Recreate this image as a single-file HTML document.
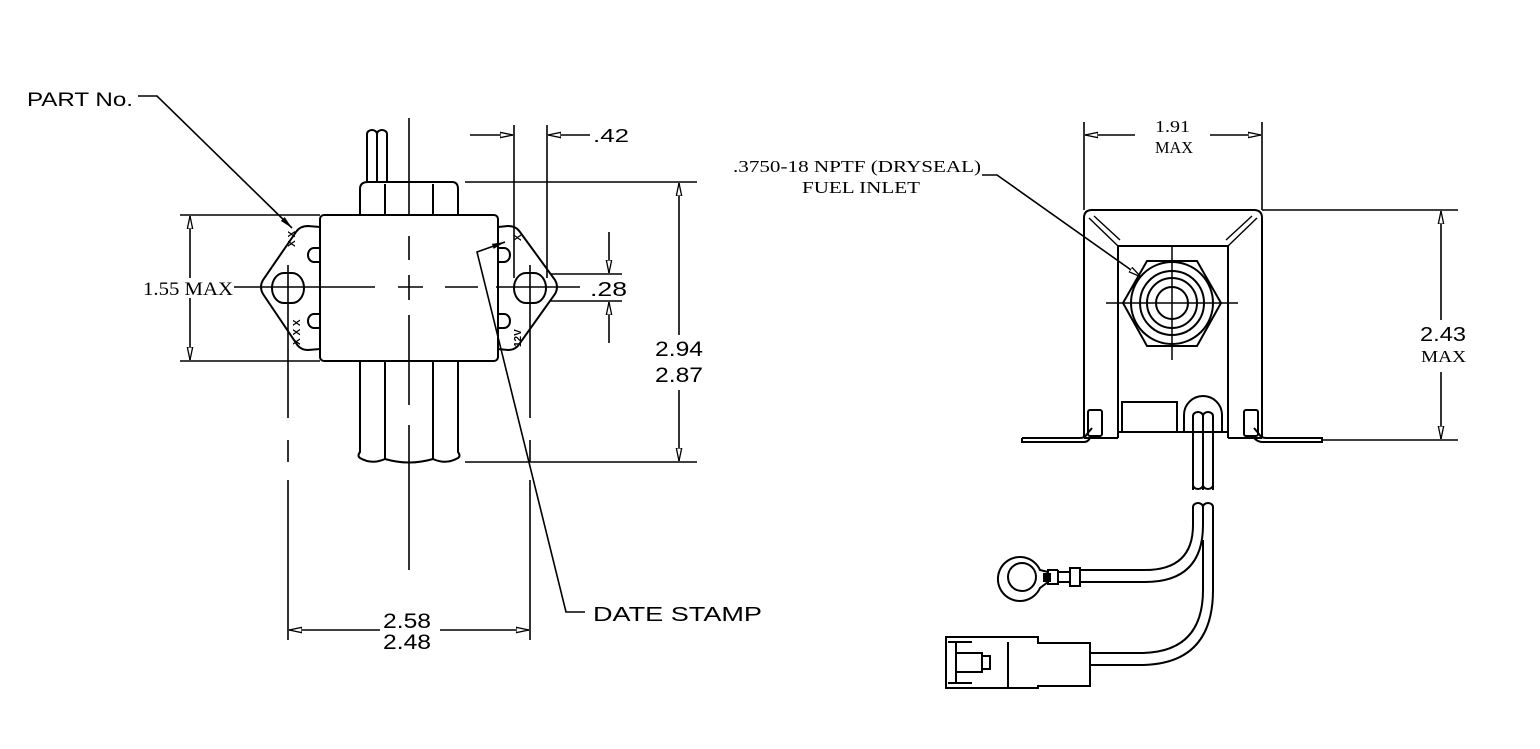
<!DOCTYPE html>
<html><head><meta charset="utf-8"><style>
html,body{margin:0;padding:0;background:#fff;}
svg{display:block;}
text{font-family:"Liberation Sans",sans-serif;fill:#000;}
.s{font-family:"Liberation Serif",serif;}
</style></head><body>
<svg width="1540" height="749" viewBox="0 0 1540 749" xmlns="http://www.w3.org/2000/svg">
<defs>
<marker id="a" viewBox="0 0 12 6" refX="12" refY="3" markerWidth="13" markerHeight="7" orient="auto" markerUnits="userSpaceOnUse">
<path d="M0,0.5 L12,3 L0,5.5 Z" fill="#fff" stroke="#000" stroke-width="1.2"/></marker>
<marker id="af" viewBox="0 0 12 6" refX="12" refY="3" markerWidth="13" markerHeight="7" orient="auto" markerUnits="userSpaceOnUse">
<path d="M0,0.5 L12,3 L0,5.5 Z" fill="#000"/></marker>
</defs>
<g fill="none" stroke="#000" stroke-width="2">
<!-- LEFT VIEW -->
<path d="M367,182 V134 a5,4 0 0 1 10,0 a5,4 0 0 1 10,0 V182"/>
<line x1="377" y1="134" x2="377" y2="182"/>
<path d="M360,215 V189 Q360,182 368,182 H452 Q458,182 458,189 V215"/>
<line x1="385" y1="184" x2="385" y2="215"/><line x1="433" y1="184" x2="433" y2="215"/>
<path d="M360,361 V452 Q357,456 360,458 Q372,465 385,459 Q409,466 433,459 Q446,465 458,458 Q461,456 458,452 V361"/>
<line x1="385" y1="361" x2="385" y2="459"/><line x1="433" y1="361" x2="433" y2="459"/>
<path d="M320,227 L308,226 Q300,226 296,232 L263,280 Q259,287 263,294 L296,343 Q300,350 308,350 L320,349"/>
<path d="M498,227 L508,226 Q516,226 520,232 L555,280 Q559,287 555,294 L520,343 Q516,350 508,350 L498,349"/>
<path d="M284,273 H292 A12,15 0 0 1 292,303 H284 A12,15 0 0 1 284,273 Z"/>
<path d="M526,273 H534 A12,15 0 0 1 534,303 H526 A12,15 0 0 1 526,273 Z"/>
<path d="M320,248 H314 A6,7 0 0 0 314,262 H320"/><path d="M320,314 H314 A6,7 0 0 0 314,328 H320"/>
<path d="M498,248 H504 A6,7 0 0 1 504,262 H498"/><path d="M498,314 H504 A6,7 0 0 1 504,328 H498"/>
<rect x="320" y="215" width="178" height="146" rx="4" fill="#fff"/>
<g stroke-width="1.6">
<line x1="409" y1="118" x2="409" y2="215"/>
<path d="M409,236 V260 M409,275 V300 M409,315 V361"/>
<line x1="409" y1="361" x2="409" y2="405"/><line x1="409" y1="425" x2="409" y2="570"/>
<path d="M234,287 H375 M398,287 H423 M445,287 H478 M496,287 H580"/>
<path d="M288,265 V418 M288,440 V462 M288,480 V640"/>
<path d="M530,265 V418 M530,440 V462 M530,480 V640"/>
<line x1="180" y1="215" x2="320" y2="215"/><line x1="180" y1="361" x2="320" y2="361"/>
<line x1="190" y1="278" x2="190" y2="216" marker-end="url(#a)"/>
<line x1="190" y1="298" x2="190" y2="360" marker-end="url(#a)"/>
<line x1="514" y1="125" x2="514" y2="278"/><line x1="547" y1="125" x2="547" y2="278"/>
<line x1="470" y1="135" x2="513" y2="135" marker-end="url(#a)"/>
<line x1="590" y1="135" x2="548" y2="135" marker-end="url(#a)"/>
<line x1="465" y1="182" x2="697" y2="182"/><line x1="465" y1="462" x2="697" y2="462"/>
<line x1="679" y1="335" x2="679" y2="183" marker-end="url(#a)"/>
<line x1="679" y1="390" x2="679" y2="461" marker-end="url(#a)"/>
<line x1="550" y1="274" x2="622" y2="274"/><line x1="550" y1="301" x2="622" y2="301"/>
<line x1="609" y1="232" x2="609" y2="273" marker-end="url(#a)"/>
<line x1="609" y1="343" x2="609" y2="302" marker-end="url(#a)"/>
<line x1="380" y1="630" x2="289" y2="630" marker-end="url(#a)"/>
<line x1="440" y1="630" x2="529" y2="630" marker-end="url(#a)"/>
<path d="M138,96 H157 L292,228" marker-end="url(#af)"/>
<path d="M585,612 H566 L477,252 L505,242" marker-end="url(#af)"/>
</g>
<!-- RIGHT VIEW -->
<path d="M1084,438 V218 Q1084,210 1092,210 H1254 Q1262,210 1262,218 V438"/>
<path d="M1118,438 V246 H1228 V438"/>
<path d="M1118,246 L1089,218 M1228,246 L1257,218 M1094,216 L1120,240 M1252,216 L1226,240" stroke-width="1.4"/>
<path d="M1022,438 H1080 Q1085,438 1087,434 L1092,428 M1084,438 H1118 M1228,438 H1262 M1254,428 L1259,434 Q1261,438 1266,438 H1322 V442 H1262 Q1258,442 1254,438 M1022,438 V442 H1084 Q1088,442 1090,438"/>
<rect x="1088" y="410" width="14" height="26" rx="2"/><rect x="1244" y="410" width="14" height="26" rx="2"/>
<rect x="1122" y="402" width="55" height="30"/>
<path d="M1184,432 V415 A19,19 0 0 1 1222,415 V432"/>
<line x1="1118" y1="432" x2="1228" y2="432"/>
<path d="M1193,490 V416 a5,4 0 0 1 10,0 a5,4 0 0 1 10,0 V490"/><line x1="1203" y1="416" x2="1203" y2="490"/>
<path d="M1193,485 a5,4 0 0 0 10,0 a5,4 0 0 0 10,0"/>
<path d="M1123,303 L1147,261 H1197 L1221,303 L1197,346 H1147 Z"/>
<circle cx="1172" cy="303" r="41"/><circle cx="1172" cy="303" r="32"/><circle cx="1172" cy="303" r="25"/><circle cx="1172" cy="303" r="16"/>
<path d="M1106,303 H1238 M1172,247 V360" stroke-width="1.5"/>
<g stroke-width="1.6">
<line x1="1084" y1="122" x2="1084" y2="210"/><line x1="1262" y1="122" x2="1262" y2="210"/>
<line x1="1135" y1="135" x2="1085" y2="135" marker-end="url(#a)"/>
<line x1="1210" y1="135" x2="1261" y2="135" marker-end="url(#a)"/>
<line x1="1262" y1="210" x2="1458" y2="210"/><line x1="1322" y1="440" x2="1458" y2="440"/>
<line x1="1441" y1="320" x2="1441" y2="211" marker-end="url(#a)"/>
<line x1="1441" y1="372" x2="1441" y2="439" marker-end="url(#a)"/>
<path d="M982,175 H997 L1141,277" marker-end="url(#a)"/>
</g>
<path d="M1193,507 a5,4 0 0 1 10,0 a5,4 0 0 1 10,0"/>
<path d="M1193,507 V525 Q1193,570 1145,570 H1080 M1203,507 V525 Q1203,582 1145,582 H1080"/>
<path d="M1213,507 V590 Q1213,665 1140,665 H1090 M1203,540 V590 Q1203,653 1140,653 H1090"/>
<path d="M1080,568 H1070 V586 H1080 Z M1070,572 H1058 V582 H1070 M1058,570 H1048 V584 H1058 V570 M1048,572 L1040,570 A22,22 0 1 0 1040,588 L1048,582"/>
<circle cx="1022" cy="577" r="14"/>
<rect x="1044" y="574" width="6" height="7" fill="#000"/>
<path d="M1090,643 V686 H1038 V688 H946 V637 H1038 V643 Z M1008,642 V687 M948,642 H972 M948,683 H972 M956,642 V683 M956,653 H982 V672 H956 M982,656 H990 V669 H982"/>
</g>
<!-- text -->
<text x="27" y="106" font-size="19" textLength="106" lengthAdjust="spacingAndGlyphs">PART No.</text>
<text x="143" y="295" font-size="19" class="s" textLength="90" lengthAdjust="spacingAndGlyphs">1.55 MAX</text>
<text x="593" y="142" font-size="18" textLength="36" lengthAdjust="spacingAndGlyphs">.42</text>
<text x="590" y="296" font-size="20" textLength="37" lengthAdjust="spacingAndGlyphs">.28</text>
<text x="655" y="356" font-size="21" textLength="48" lengthAdjust="spacingAndGlyphs">2.94</text>
<text x="655" y="382" font-size="21" textLength="48" lengthAdjust="spacingAndGlyphs">2.87</text>
<text x="383" y="628" font-size="21" textLength="48" lengthAdjust="spacingAndGlyphs">2.58</text>
<text x="383" y="649" font-size="21" textLength="48" lengthAdjust="spacingAndGlyphs">2.48</text>
<text x="593" y="621" font-size="20" textLength="169" lengthAdjust="spacingAndGlyphs">DATE STAMP</text>
<text x="295" y="247" font-size="10" font-weight="bold" transform="rotate(-90 295 247)">X X</text>
<text x="300" y="345" font-size="10" font-weight="bold" transform="rotate(-90 300 345)">X X X</text>
<text x="521" y="241" font-size="10" font-weight="bold" transform="rotate(-90 521 241)">X</text>
<text x="521" y="347" font-size="10" font-weight="bold" transform="rotate(-90 521 347)">12V</text>
<text x="1155" y="132" font-size="17" class="s" textLength="35" lengthAdjust="spacingAndGlyphs">1.91</text>
<text x="1155" y="153" font-size="17" class="s" textLength="38" lengthAdjust="spacingAndGlyphs">MAX</text>
<text x="1420" y="341" font-size="20" textLength="46" lengthAdjust="spacingAndGlyphs">2.43</text>
<text x="1421" y="362" font-size="17" class="s" textLength="45" lengthAdjust="spacingAndGlyphs">MAX</text>
<text x="733" y="172" font-size="17" class="s" textLength="248" lengthAdjust="spacingAndGlyphs">.3750-18 NPTF (DRYSEAL)</text>
<text x="802" y="193" font-size="17" class="s" textLength="118" lengthAdjust="spacingAndGlyphs">FUEL INLET</text>
</svg>
</body></html>
